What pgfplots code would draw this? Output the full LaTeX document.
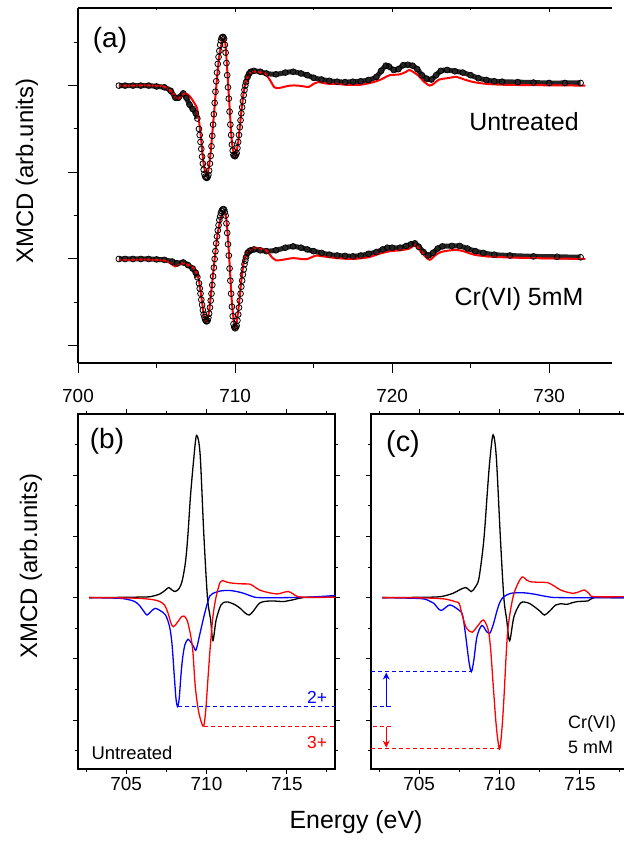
\documentclass[border=0pt]{standalone}
\usepackage{pgfplots}
\pgfplotsset{compat=1.18}
\usepackage{pgfplotstable}
\usepackage{fontspec}
\setmainfont{Liberation Sans}
\usetikzlibrary{arrows.meta}

% (a) untreated: measured (circles) and fit (red), offset by 2
\pgfplotstableread{
x y
702.6 2.00
703.0 2.00
703.5 2.00
704.0 2.00
704.5 2.00
705.0 1.99
705.5 1.98
705.9 1.94
706.2 1.86
706.4 1.86
706.7 1.91
706.9 1.86
707.1 1.78
707.3 1.73
707.5 1.68
707.6 1.62
707.7 1.50
707.75 1.43
707.8 1.35
707.85 1.27
707.9 1.18
707.95 1.10
708.0 1.03
708.05 0.98
708.1 0.95
708.15 0.94
708.2 0.935
708.25 0.945
708.3 0.97
708.35 1.02
708.4 1.10
708.45 1.19
708.5 1.30
708.55 1.42
708.6 1.55
708.65 1.67
708.7 1.80
708.75 1.93
708.8 2.05
708.85 2.15
708.9 2.25
708.95 2.33
709.0 2.40
709.05 2.47
709.1 2.52
709.15 2.55
709.2 2.56
709.25 2.56
709.3 2.54
709.35 2.47
709.4 2.38
709.45 2.26
709.5 2.12
709.55 1.98
709.6 1.85
709.65 1.70
709.7 1.55
709.75 1.43
709.8 1.32
709.85 1.25
709.9 1.20
709.95 1.19
710.0 1.185
710.05 1.20
710.1 1.22
710.15 1.28
710.2 1.35
710.25 1.43
710.3 1.52
710.35 1.60
710.4 1.68
710.45 1.75
710.5 1.82
710.55 1.89
710.6 1.95
710.65 2.00
710.7 2.04
710.8 2.10
710.9 2.14
711.0 2.16
711.2 2.17
711.6 2.16
712.0 2.14
712.6 2.13
713.2 2.15
713.7 2.16
714.2 2.14
714.6 2.12
715.0 2.09
715.5 2.07
716.0 2.055
716.5 2.045
717.0 2.04
717.5 2.045
718.0 2.05
718.5 2.065
719.0 2.10
719.3 2.17
719.6 2.23
719.8 2.22
720.1 2.18
720.4 2.19
720.7 2.235
721.0 2.24
721.3 2.23
721.6 2.19
721.9 2.12
722.2 2.08
722.5 2.07
722.8 2.12
723.1 2.17
723.5 2.18
724.0 2.165
724.5 2.15
725.0 2.12
725.5 2.085
726.0 2.065
726.5 2.05
727.0 2.045
728.0 2.04
729.0 2.035
730.0 2.03
731.0 2.03
732.0 2.03
}\untreatedexp

\pgfplotstableread{
x y
702.6 2.00
705.0 2.00
705.6 1.98
706.0 1.92
706.3 1.85
706.5 1.86
706.8 1.91
707.1 1.88
707.4 1.80
707.6 1.72
707.8 1.45
708.0 1.10
708.2 0.955
708.4 1.15
708.6 1.55
708.8 1.98
709.0 2.35
709.2 2.52
709.3 2.54
709.4 2.45
709.6 1.90
709.8 1.35
710.0 1.19
710.2 1.35
710.4 1.70
710.6 1.98
710.8 2.10
711.0 2.15
711.3 2.16
711.6 2.15
711.9 2.14
712.2 2.07
712.5 1.98
712.7 1.97
713.0 1.98
713.5 2.00
714.0 2.00
714.4 1.99
714.7 1.985
715.0 2.02
715.3 2.04
715.6 2.03
716.0 2.02
716.5 2.02
717.0 2.01
718.0 2.01
719.0 2.05
719.5 2.09
719.85 2.12
720.5 2.13
720.9 2.16
721.1 2.18
721.4 2.15
721.7 2.11
722.0 2.05
722.4 2.00
722.7 2.03
723.0 2.07
723.5 2.085
724.1 2.10
724.6 2.07
725.2 2.04
726.0 2.02
727.0 2.01
729.0 2.005
732.3 2.00
}\untreatedfit

% (a) Cr(VI) 5mM
\pgfplotstableread{
x y
702.6 0.00
703.0 0.00
703.5 0.00
704.0 0.00
704.5 0.00
705.0 -0.005
705.5 -0.01
706.0 -0.03
706.3 -0.05
706.7 -0.04
707.0 -0.07
707.3 -0.11
707.5 -0.16
707.6 -0.21
707.7 -0.28
707.75 -0.34
707.8 -0.40
707.85 -0.47
707.9 -0.53
707.95 -0.59
708.0 -0.64
708.05 -0.67
708.1 -0.70
708.15 -0.715
708.2 -0.72
708.25 -0.71
708.3 -0.68
708.35 -0.63
708.4 -0.56
708.45 -0.48
708.5 -0.40
708.55 -0.30
708.6 -0.20
708.65 -0.10
708.7 0.00
708.75 0.09
708.8 0.18
708.85 0.26
708.9 0.33
708.95 0.39
709.0 0.45
709.05 0.49
709.1 0.53
709.15 0.555
709.2 0.57
709.25 0.575
709.3 0.57
709.35 0.54
709.4 0.50
709.45 0.41
709.5 0.30
709.55 0.17
709.6 0.04
709.65 -0.11
709.7 -0.25
709.75 -0.40
709.8 -0.55
709.85 -0.66
709.9 -0.75
709.95 -0.785
710.0 -0.80
710.05 -0.79
710.1 -0.77
710.15 -0.71
710.2 -0.64
710.25 -0.56
710.3 -0.48
710.35 -0.40
710.4 -0.32
710.45 -0.25
710.5 -0.18
710.55 -0.12
710.6 -0.06
710.65 -0.02
710.7 0.02
710.8 0.07
710.9 0.09
711.0 0.10
711.2 0.11
711.6 0.10
712.0 0.09
712.6 0.10
713.2 0.13
713.7 0.145
714.2 0.13
714.6 0.11
715.0 0.09
715.5 0.07
716.0 0.05
716.5 0.04
717.0 0.035
717.5 0.03
718.0 0.04
718.5 0.06
719.0 0.08
719.4 0.11
719.7 0.13
720.0 0.13
720.5 0.13
720.9 0.15
721.2 0.17
721.45 0.18
721.7 0.14
722.0 0.08
722.3 0.04
722.6 0.07
722.9 0.12
723.2 0.145
723.8 0.15
724.3 0.15
724.8 0.12
725.3 0.09
725.8 0.07
726.5 0.05
727.5 0.04
729.0 0.03
730.5 0.025
732.0 0.02
}\crexp

\pgfplotstableread{
x y
702.6 -0.01
705.0 -0.01
705.7 -0.03
706.2 -0.085
706.6 -0.05
707.0 -0.07
707.3 -0.09
707.5 -0.14
707.7 -0.25
707.9 -0.50
708.05 -0.68
708.2 -0.72
708.35 -0.60
708.5 -0.35
708.7 0.00
708.9 0.30
709.1 0.48
709.3 0.55
709.45 0.45
709.6 0.10
709.8 -0.50
710.0 -0.80
710.2 -0.60
710.4 -0.25
710.6 0.00
710.9 0.10
711.25 0.13
711.6 0.12
712.0 0.10
712.3 0.03
712.6 -0.015
713.0 -0.01
713.7 0.01
714.2 0.00
714.6 0.00
715.0 0.03
715.2 0.04
715.6 0.03
716.5 0.01
717.5 0.00
718.5 0.02
719.0 0.05
719.5 0.075
719.85 0.09
720.5 0.10
721.1 0.12
721.45 0.16
721.8 0.10
722.1 0.03
722.4 -0.01
722.8 0.05
723.2 0.085
724.1 0.105
724.7 0.08
725.2 0.05
726.0 0.03
727.0 0.02
729.0 0.01
732.3 0.00
}\crfit

% (b) untreated components
\pgfplotstableread{
x y
702.7 0.00
705.0 0.01
706.0 0.02
706.5 0.03
707.1 0.12
707.45 0.25
707.65 0.33
707.85 0.25
708.05 0.20
708.3 0.30
708.5 0.58
708.7 1.20
708.85 2.10
709.0 3.30
709.2 4.50
709.38 5.30
709.6 4.70
709.83 2.10
710.06 0.00
710.25 -0.70
710.4 -1.40
710.6 -0.73
710.9 -0.24
711.2 -0.14
711.45 -0.16
711.8 -0.24
712.1 -0.35
712.4 -0.50
712.65 -0.57
712.9 -0.45
713.3 -0.18
713.7 -0.12
714.1 -0.11
714.5 -0.12
714.8 -0.13
715.1 -0.10
715.4 -0.07
716.0 0.00
717.0 0.01
718.0 0.02
}\bblack

\pgfplotstableread{
x y
702.7 0.00
705.0 -0.01
706.0 -0.03
706.7 -0.07
707.1 -0.13
707.4 -0.25
707.6 -0.50
707.8 -0.85
707.95 -0.95
708.2 -0.80
708.45 -0.62
708.6 -0.60
708.8 -0.75
709.0 -1.20
709.15 -1.75
709.3 -2.90
709.5 -3.70
709.7 -4.10
709.83 -4.19
709.95 -3.70
710.1 -2.58
710.25 -1.50
710.4 -0.62
710.55 -0.10
710.7 0.25
710.85 0.50
711.0 0.56
711.3 0.50
711.66 0.47
712.2 0.45
712.7 0.44
713.0 0.35
713.3 0.25
713.8 0.17
714.4 0.12
714.8 0.17
715.1 0.20
715.4 0.12
715.7 0.03
716.5 0.01
718.0 0.01
}\bred

\pgfplotstableread{
x y
702.7 0.00
704.5 -0.02
705.0 -0.05
705.5 -0.12
705.8 -0.24
706.1 -0.45
706.3 -0.57
706.55 -0.45
706.8 -0.35
707.1 -0.42
707.45 -0.57
707.7 -0.95
707.85 -1.50
708.0 -2.60
708.1 -3.30
708.2 -3.56
708.3 -3.30
708.4 -2.60
708.5 -2.03
708.65 -1.55
708.85 -1.36
709.05 -1.48
709.2 -1.60
709.35 -1.71
709.6 -1.16
709.8 -0.70
710.0 -0.29
710.2 0.05
710.4 0.14
710.9 0.22
711.5 0.23
712.2 0.16
712.9 0.03
713.3 0.00
715.0 0.00
716.5 0.02
717.5 0.05
718.0 0.07
}\bblue

% (c) Cr(VI) 5 mM components
\pgfplotstableread{
x y
702.7 0.00
705.0 0.01
706.3 0.03
707.1 0.14
707.5 0.25
707.9 0.33
708.25 0.20
708.5 0.35
708.7 0.58
708.9 1.30
709.06 2.10
709.25 3.50
709.4 4.50
709.6 5.32
709.8 4.60
710.06 1.90
710.27 0.00
710.45 -0.73
710.63 -1.41
710.9 -0.62
711.3 -0.18
711.6 -0.15
711.9 -0.20
712.3 -0.35
712.56 -0.46
712.8 -0.57
713.1 -0.45
713.5 -0.24
713.8 -0.20
714.2 -0.22
714.5 -0.17
714.85 -0.13
715.2 -0.12
715.5 -0.11
715.9 0.00
717.0 0.00
718.0 0.00
}\cblack

\pgfplotstableread{
x y
702.7 0.00
705.3 -0.01
706.5 -0.04
706.9 -0.08
707.3 -0.14
707.5 -0.20
707.7 -0.62
707.95 -1.00
708.3 -1.13
708.65 -0.92
709.0 -0.73
709.3 -1.06
709.45 -1.70
709.6 -2.80
709.8 -4.20
710.0 -4.95
710.15 -4.30
710.27 -3.34
710.5 -1.16
710.8 -0.08
711.06 0.36
711.4 0.67
711.7 0.57
711.9 0.52
712.5 0.50
713.0 0.49
713.4 0.38
713.8 0.25
714.2 0.18
714.6 0.14
715.0 0.20
715.3 0.25
715.6 0.12
715.9 0.03
718.0 0.03
}\cred

\pgfplotstableread{
x y
702.7 0.00
705.06 -0.03
705.6 -0.10
705.9 -0.18
706.35 -0.42
706.9 -0.24
707.45 -0.40
707.7 -0.57
707.9 -1.27
708.1 -2.10
708.25 -2.42
708.4 -2.05
708.6 -1.27
708.9 -0.91
709.2 -1.11
709.4 -1.16
709.6 -0.90
709.86 -0.40
710.05 -0.12
710.27 0.03
710.7 0.14
711.4 0.16
712.1 0.12
713.0 0.03
713.8 0.00
718.0 0.00
}\cblue

\pgfplotsset{
  xmcd/.style={
    scale only axis,
    axis line style={line width=1.2bp},
    tick style={line width=1bp, black},
    tick align=outside,
    yticklabels={},
    /pgf/number format/assume math mode=true,
    tick label style={font=\fontsize{19}{22}\selectfont},
  },
  lower/.style={
    xmcd,
    width=257bp, height=355bp,
    xmin=702, xmax=718, ymin=-5.6, ymax=6,
    xtick={705,710,715},
    minor xtick={702.5,707.5,712.5,717.5},
    ytick={-4,-2,0,2,4},
    minor ytick={-5,-3,-1,1,3,5},
    major tick length=5bp, minor tick length=3bp,
  },
  dat/.style={line width=1.3bp, smooth, no markers},
}

\begin{document}
\begin{tikzpicture}
\path[use as bounding box] (0bp,0bp) rectangle (624bp,-841bp);

% ---------- (a) ----------
\begin{axis}[xmcd,
  at={(78bp,-8bp)}, anchor=north west,
  width=534bp, height=355bp,
  xmin=700, xmax=734, ymin=-1.2, ymax=2.895,
  axis x line*=bottom, axis y line*=left,
  axis line style={-},
  xtick={700,710,720,730}, minor xtick={705,715,725},
  ytick={-1,0,1,2}, minor ytick={-0.5,0.5,1.5,2.5},
  major tick length=9.5bp, minor tick length=4.5bp,
  xticklabel style={yshift=-13bp},
]
  % dense parts of the measured data read as a dark band
  \addplot[black!85, line width=5bp, smooth, restrict x to domain=702:707.6] table {\untreatedexp};
  \addplot[black!85, line width=5bp, smooth, restrict x to domain=710.7:733] table {\untreatedexp};
  \addplot[black!85, line width=5bp, smooth, restrict x to domain=702:707.6] table {\crexp};
  \addplot[black!85, line width=5bp, smooth, restrict x to domain=710.7:733] table {\crexp};
  \addplot[only marks, mark=o, mark size=2.9bp, mark options={line width=0.8bp, black}] table {\untreatedexp};
  \addplot[only marks, mark=o, mark size=2.9bp, mark options={line width=0.8bp, black}] table {\crexp};
  \addplot[red, line width=2bp, smooth] table {\untreatedfit};
  \addplot[red, line width=2bp, smooth] table {\crfit};
\end{axis}
% mirrored ticks on top of (a)
\begin{axis}[xmcd,
  at={(78bp,-8bp)}, anchor=north west,
  width=534bp, height=355bp,
  xmin=700, xmax=734, ymin=-1.2, ymax=2.895,
  axis x line*=top, axis y line=none,
  axis line style={-},
  tick align=inside,
  xtick={700,710,720,730}, minor xtick={705,715,725},
  xticklabels={},
  major tick length=4bp, minor tick length=2.5bp,
]
\end{axis}

% ---------- (b) ----------
\begin{axis}[lower, at={(78bp,-414bp)}, anchor=north west]
  \addplot[dat, black] table {\bblack};
  \addplot[dat, blue] table {\bblue};
  \addplot[dat, red] table {\bred};
  \addplot[blue, line width=1bp, dash pattern=on 4bp off 3bp] coordinates {(708.2,-3.56) (718,-3.56)};
  \addplot[red, line width=1bp, dash pattern=on 4bp off 3bp] coordinates {(709.83,-4.22) (718,-4.22)};
\end{axis}

% ---------- (c) ----------
\begin{axis}[lower, at={(371bp,-414bp)}, anchor=north west]
  \addplot[dat, black] table {\cblack};
  \addplot[dat, blue] table {\cblue};
  \addplot[dat, red] table {\cred};
  \addplot[blue, line width=1bp, dash pattern=on 4bp off 3bp] coordinates {(702,-2.42) (708.25,-2.42)};
  \addplot[blue, line width=1bp, dash pattern=on 4bp off 3bp] coordinates {(702.1,-3.56) (703.35,-3.56)};
  \addplot[red, line width=1bp, dash pattern=on 4bp off 3bp] coordinates {(702.1,-4.22) (703.35,-4.22)};
  \addplot[red, line width=1bp, dash pattern=on 4bp off 3bp] coordinates {(702,-4.93) (710.0,-4.93)};
  \addplot[blue, line width=1.2bp, -{Stealth[length=7bp,width=7bp]}] coordinates {(702.95,-3.56) (702.95,-2.45)};
  \addplot[red, line width=1.2bp, -{Stealth[length=7bp,width=7bp]}] coordinates {(702.95,-4.22) (702.95,-4.90)};
\end{axis}

% ---------- labels ----------
\node[rotate=90, font=\fontsize{24}{28}\selectfont] at (27bp,-171bp) {XMCD (arb.units)};
\node[rotate=90, font=\fontsize{24}{28}\selectfont] at (31bp,-566bp) {XMCD (arb.units)};
\node[font=\fontsize{25}{30}\selectfont] at (356bp,-822bp) {Energy (eV)};

\node[font=\fontsize{28}{32}\selectfont] at (110bp,-40bp) {(a)};
\node[font=\fontsize{28}{32}\selectfont] at (107bp,-441bp) {(b)};
\node[font=\fontsize{29}{33}\selectfont] at (403bp,-444bp) {(c)};

\node[font=\fontsize{25}{30}\selectfont] at (524bp,-122bp) {Untreated};
\node[font=\fontsize{25}{30}\selectfont] at (519bp,-299bp) {Cr(VI) 5mM};

\node[font=\fontsize{18.5}{22}\selectfont] at (132bp,-753bp) {Untreated};
\node[font=\fontsize{17.5}{21}\selectfont, text=blue] at (317bp,-697bp) {2+};
\node[font=\fontsize{17.5}{21}\selectfont, text=red] at (317bp,-742bp) {3+};
\node[font=\fontsize{18}{22}\selectfont, anchor=west, inner sep=0pt] at (568bp,-724bp) {Cr(VI)};
\node[font=\fontsize{18}{22}\selectfont, anchor=west, inner sep=0pt] at (568bp,-747bp) {5 mM};
\end{tikzpicture}
\end{document}
